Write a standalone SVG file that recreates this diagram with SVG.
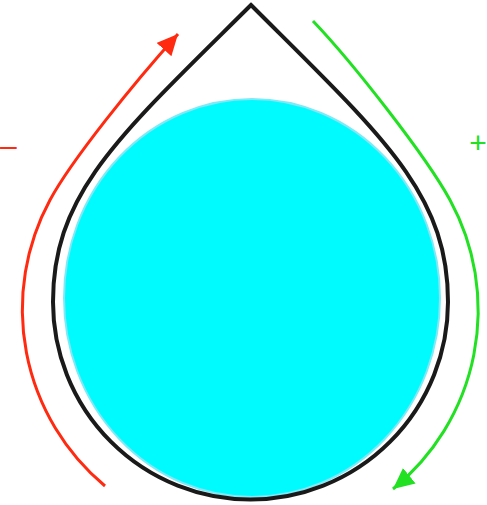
<svg xmlns="http://www.w3.org/2000/svg" width="487" height="505" viewBox="0 0 487 505">
  <style>
    .flow { fill: none; stroke-width: 3; stroke-linecap: butt; }
    .red { stroke: #ff2a10; }
    .green { stroke: #22e022; }
    .lbl { font-family: "Liberation Sans", Arial, sans-serif; font-size: 30px; }
  </style>
  <defs>
    <marker id="ahRed" markerUnits="userSpaceOnUse" markerWidth="24" markerHeight="22" refX="21" refY="10" orient="auto">
      <path d="M0,0 L21,10 L0,20 Z" fill="#ff2a10"/>
    </marker>
    <marker id="ahGreen" markerUnits="userSpaceOnUse" markerWidth="24" markerHeight="22" refX="21" refY="10" orient="auto">
      <path d="M0,0 L21,10 L0,20 Z" fill="#22e022"/>
    </marker>
  </defs>
  <rect width="487" height="505" fill="#ffffff"/>
  <g id="water">
    <ellipse cx="252" cy="298" rx="188" ry="199" fill="#00fbff" stroke="#7fe9f6" stroke-width="2"/>
  </g>
  <g id="drop">
    <path d="M251,5 C381,135 448,192 448,302 A197.5,197.5 0 0 1 53,302 C53,192 120,135 251,5 Z" fill="none" stroke="#1a1a1a" stroke-width="4" stroke-linejoin="miter"/>
  </g>
  <g id="connectors">
    <path class="flow red" d="M105,486 A230,230 0 0 1 50,200 C71.4,160.4 133,84 178,34" marker-end="url(#ahRed)"/>
    <path class="flow green" d="M313,21 C353,63 426,156 450,200 A230,230 0 0 1 393,489" marker-end="url(#ahGreen)"/>
  </g>
  <g id="labels">
    <text class="lbl" x="0" y="156" font-size="28" fill="#ff2a10">–</text>
    <text class="lbl" x="478" y="152.5" text-anchor="middle" fill="#22e022">+</text>
  </g>
</svg>
